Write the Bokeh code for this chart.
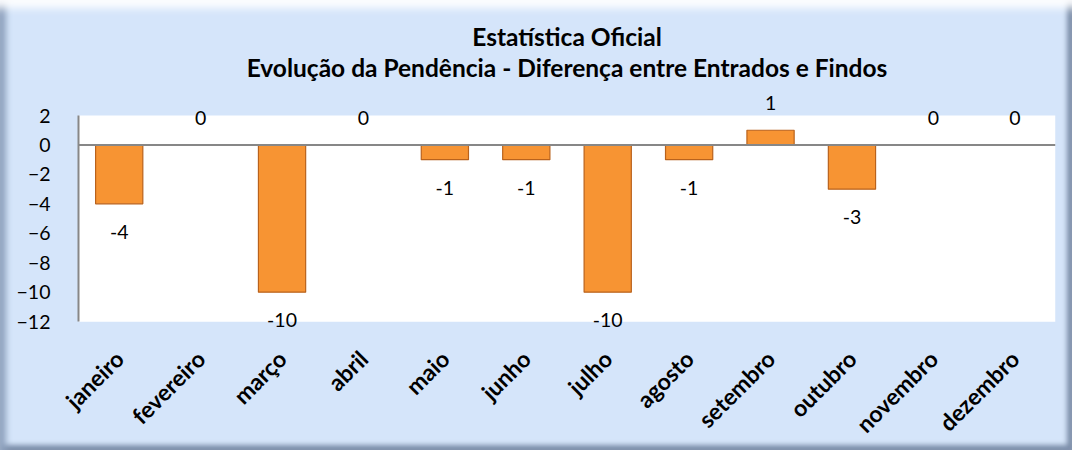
from bokeh.plotting import figure
from bokeh.models import (ColumnDataSource, FactorRange, Range1d, FixedTicker, Span,
                          LabelSet, Label, BoxAnnotation)
from bokeh.core.properties import value
from bokeh.embed import file_html
from bokeh.resources import INLINE
import math

months = ["janeiro", "fevereiro", "março", "abril", "maio", "junho",
          "julho", "agosto", "setembro", "outubro", "novembro", "dezembro"]
values = [-4, 0, -10, 0, -1, -1, -10, -1, 1, -3, 0, 0]
y_ticks = [2, 0, -2, -4, -6, -8, -10, -12]
title_lines = ["Estatística Oficial",
               "Evolução da Pendência - Diferença entre Entrados e Findos"]

FONT = "Lato"
BG = "#D5E5FA"

# layout (pixels)
W, H = 1072, 450
AREA_TOP, AREA_BOTTOM = 116, 324          # white plot area in canvas px
FRAME_TOP, FRAME_BOTTOM = 8, 341          # drawing frame in canvas px
y_lo, y_hi = min(y_ticks), max(y_ticks)
ppu = (AREA_BOTTOM - AREA_TOP) / (y_hi - y_lo)
range_top = y_hi + (AREA_TOP - FRAME_TOP) / ppu
range_bottom = y_lo - (FRAME_BOTTOM - AREA_BOTTOM) / ppu

def y_at(canvas_y):
    return y_hi + (AREA_TOP - canvas_y) / ppu

labels = [str(v) for v in values]
offsets = [-28 if v < 0 else 27 for v in values]
source = ColumnDataSource(dict(month=months, val=values, lab=labels, yoff=offsets))

p = figure(width=W, height=H, x_range=FactorRange(*months),
           y_range=Range1d(range_bottom, range_top),
           output_backend="svg", toolbar_location=None, title_location=None,
           min_border_left=78, min_border_right=17, min_border_top=FRAME_TOP,
           min_border_bottom=H - FRAME_BOTTOM)

p.border_fill_color = None
p.background_fill_color = None
p.outline_line_color = None
p.styles = {
    "background-color": BG,
    "box-shadow": ("inset 0 14px 8px -6px rgba(255,255,255,0.95), "
                   "inset 9px 0 6px -3px #8FA2BE, "
                   "inset -8px 0 5px -3px #7D8FAA, "
                   "inset 0 -8px 5px -3px #7D8FAA"),
}

# white plot area
p.add_layout(BoxAnnotation(bottom=y_lo, top=y_hi, fill_color="white", fill_alpha=1,
                           line_color=None, level="underlay"))

# titles
for txt, cy in zip(title_lines, [36, 68]):
    p.add_layout(Label(x=len(months) / 2, y=y_at(cy), text=txt, text_align="center",
                       text_baseline="middle", text_font=FONT, text_font_size="24.5px",
                       text_font_style="bold", text_color="black"))

p.xgrid.grid_line_color = None
p.ygrid.grid_line_color = None

p.vbar(x="month", top="val", bottom=0, width=0.58, source=source,
       fill_color="#F79433", line_color="#B9621C", line_width=1.2)

p.add_layout(Span(location=0, dimension="width", line_color="#878787", line_width=2))

lbl = LabelSet(x="month", y="val", text="lab", source=source, y_offset="yoff",
               text_align="center", text_baseline="middle",
               text_font=value(FONT), text_font_size="19.5px", text_color="black")
p.add_layout(lbl)

p.yaxis.ticker = FixedTicker(ticks=y_ticks)
p.yaxis.bounds = (y_lo, y_hi)
p.yaxis.axis_line_color = "#878787"
p.yaxis.axis_line_width = 2
p.yaxis.major_tick_line_color = None
p.yaxis.minor_tick_line_color = None
p.yaxis.major_label_standoff = 22
p.yaxis.major_label_text_font = FONT
p.yaxis.major_label_text_font_size = "19.5px"
p.yaxis.major_label_text_color = "black"

p.xaxis.axis_line_color = None
p.xaxis.major_tick_line_color = None
p.xaxis.minor_tick_line_color = None
p.xaxis.major_label_orientation = math.pi / 4
p.xaxis.major_label_standoff = 10
p.xaxis.major_label_text_font = FONT
p.xaxis.major_label_text_font_size = "23px"
p.xaxis.major_label_text_font_style = "bold"
p.xaxis.major_label_text_color = "black"

open("out.html", "w").write(file_html(p, INLINE))
